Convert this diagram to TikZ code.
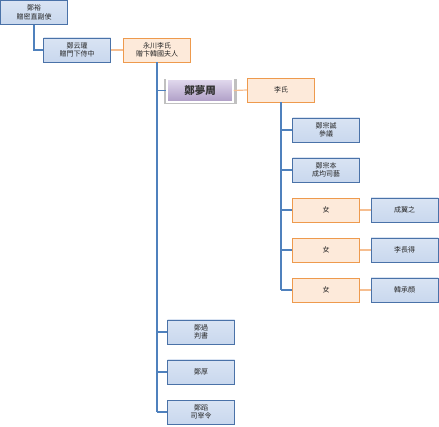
\documentclass[tikz,border=0pt]{standalone}
\usepackage{fontspec}
\setmainfont{Noto Sans CJK TC}
\usetikzlibrary{shadows}
\definecolor{bfill}{HTML}{C9D8EE}
\definecolor{bdraw}{HTML}{4A72A8}
\definecolor{ofill}{HTML}{FDEADA}
\definecolor{odraw}{HTML}{EE9A4D}
\definecolor{bline}{HTML}{4F81BD}
\definecolor{oline}{HTML}{F6BE90}
\definecolor{ptop}{HTML}{E2DAEE}
\definecolor{pbot}{HTML}{AE9DC6}
\begin{document}
\begin{tikzpicture}[x=1pt,y=-1pt,
  bluebox/.style={draw=bdraw,line width=0.9pt,top color=bfill!70!white,bottom color=bfill,minimum width=67pt,minimum height=24pt,inner sep=1pt,align=center,font=\fontsize{7}{8.4}\selectfont,text=black!85},
  orbox/.style={draw=odraw,line width=0.9pt,fill=ofill,minimum width=67pt,minimum height=24pt,inner sep=1pt,align=center,font=\fontsize{7}{8.4}\selectfont,text=black!85},
  mainbox/.style={draw=white,line width=1.5pt,top color=ptop,bottom color=pbot,minimum width=66pt,minimum height=23pt,inner sep=1pt,font=\bfseries\fontsize{10.5}{12}\selectfont,text=black!80,
    general shadow={shadow scale=1.1,shadow xshift=0.6pt,shadow yshift=-0.6pt,fill=black!35,opacity=0.7}},
  bl/.style={draw=bline,line width=1.2pt},
  ol/.style={draw=oline,line width=1.2pt}]
\useasboundingbox[fill=white] (0,0) rectangle (439,427);
\node[bluebox] (yu) at (34,12.5) {鄭裕\\贈密直副使};
\node[bluebox] (ug) at (77,50) {鄭云瓘\\贈門下侍中};
\node[orbox] (yc) at (157,50) {永川李氏\\贈卞韓國夫人};
\node[mainbox] (mj) at (200,90.5) {鄭夢周};
\node[orbox] (ls) at (281,90) {李氏};
\node[bluebox] (js) at (326,130) {鄭宗誠\\參議};
\node[bluebox] (jb) at (326,170) {鄭宗本\\成均司藝};
\node[orbox] (d1) at (326,210) {女};
\node[orbox] (d2) at (326,250) {女};
\node[orbox] (d3) at (326,290) {女};
\node[bluebox] (h1) at (404.5,210) {成翼之};
\node[bluebox] (h2) at (404.5,250) {李長得};
\node[bluebox] (h3) at (404.5,290) {韓承顔};
\node[bluebox] (gw) at (201,332) {鄭過\\判書};
\node[bluebox] (hu) at (201,372) {鄭厚};
\node[bluebox] (do) at (201,412) {鄭蹈\\司宰令};
% connectors
\draw[bl] (yu.south) -- (yu.south |- ug.west) -- (ug.west);
\draw[ol] (ug.east) -- (yc.west);
\draw[bl] (yc.south) -- (yc.south |- do.west);
\foreach \c in {mj,gw,hu,do} \draw[bl] (yc.south |- \c.west) -- (\c.west);
\draw[ol] (mj.east) -- (ls.west);
\draw[bl] (ls.south) -- (ls.south |- d3.west);
\foreach \c in {js,jb,d1,d2,d3} \draw[bl] (ls.south |- \c.west) -- (\c.west);
\draw[ol] (d1.east) -- (h1.west);
\draw[ol] (d2.east) -- (h2.west);
\draw[ol] (d3.east) -- (h3.west);
\end{tikzpicture}
\end{document}
